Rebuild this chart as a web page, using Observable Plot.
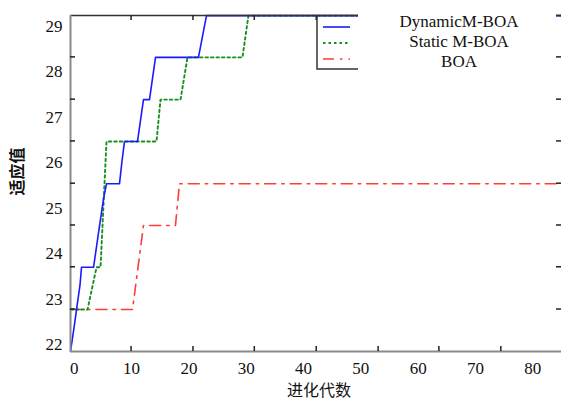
<!DOCTYPE html>
<html>
<head>
<meta charset="utf-8">
<script src="https://cdn.jsdelivr.net/npm/d3@7"></script>
<script src="https://cdn.jsdelivr.net/npm/@observablehq/plot@0.6"></script>
<style>
  html, body { margin: 0; padding: 0; background: #fff; }
  #chart svg { display: block; background: #fff; }
  #chart svg text { font-family: 'Liberation Serif', 'Times New Roman', serif; font-size: 17px; }
</style>
</head>
<body>
<div id="chart"></div>
<script>
// ---- data (x = 进化代数, y = 适应值) ----
const seriesNames = ["DynamicM-BOA", "Static M-BOA", "BOA"];

const dynamicGen = [-0.65, 0.0, 0.4, 1.0, 1.27, 3.37, 4.4, 5.1, 5.63, 7.9, 8.3, 8.77, 11.04, 12.08, 13.13, 14.18, 21.67, 23.07, 85];
const dynamicFit = [21.85, 22.4, 22.77, 23.3, 23.7, 23.7, 24.6, 25.2, 25.54, 25.54, 26.0, 26.47, 26.47, 27.39, 27.39, 28.32, 28.32, 29.24, 29.24];

const staticGen = [-0.65, 2.32, 3.89, 4.59, 5.63, 14.35, 15.05, 18.54, 19.76, 29.35, 30.39, 85];
const staticFit = [22.77, 22.77, 23.7, 23.7, 26.47, 26.47, 27.39, 27.39, 28.32, 28.32, 29.24, 29.24];

const boaGen = [-0.65, 10.17, 12.08, 17.66, 18.36, 85];
const boaFit = [22.77, 22.77, 24.62, 24.62, 25.54, 25.54];

const xTickLabels = [0, 10, 20, 30, 40, 50, 60, 70, 80];
const yTickLabels = [22, 23, 24, 25, 26, 27, 28, 29];
const xTickMarks = [10, 20.8, 31.5, 42.3, 53.1, 63.7, 74.5];
const yTickMarks = [22.77, 23.7, 24.62, 25.54, 26.47, 27.39, 28.32];

const xDomain = [-0.65, 85];
const yDomain = [21.846, 29.242];

const xTitle = "进化代数";
const yTitle = "适应值";

// ---- build table ----
function rows(name, gens, fits) {
  return gens.map((g, i) => ({series: name, gen: g, fit: fits[i]}));
}
const dyn = rows(seriesNames[0], dynamicGen, dynamicFit);
const sta = rows(seriesNames[1], staticGen, staticFit);
const boa = rows(seriesNames[2], boaGen, boaFit);

const serif = "'Liberation Serif', 'Times New Roman', serif";
const cjk = "'Noto Sans CJK SC', sans-serif";
const tickStroke = "#222";
const colors = {blue: "#1a1aff", green: "#17901f", red: "#ff3b3b"};
const dashes = {green: "2.5,3", red: "11,6,2.5,6"};

const chart = Plot.plot({
  width: 561,
  height: 405,
  marginLeft: 70,
  marginTop: 15,
  marginRight: 0,
  marginBottom: 54,
  x: {domain: xDomain},
  y: {domain: yDomain},
  marks: [
    Plot.line(boa, {x: "gen", y: "fit", stroke: colors.red, strokeWidth: 1.6, strokeDasharray: dashes.red}),
    Plot.line(sta, {x: "gen", y: "fit", stroke: colors.green, strokeWidth: 1.9, strokeDasharray: dashes.green}),
    Plot.line(dyn, {x: "gen", y: "fit", stroke: colors.blue, strokeWidth: 1.6}),
    // frame lines
    Plot.ruleY([yDomain[1]], {stroke: "#333", strokeWidth: 1.5}),
    Plot.ruleX([xDomain[0]], {stroke: "#8a8a8a", strokeWidth: 2}),
    Plot.ruleY([yDomain[0]], {stroke: "#8a8a8a", strokeWidth: 2}),
    // labels
    Plot.axisX(xTickLabels, {anchor: "bottom", tickSize: 0, tickPadding: 10, label: null, fill: "#111"}),
    Plot.axisY(yTickLabels, {anchor: "left", tickSize: 0, tickPadding: 8, label: null, fill: "#111"}),
    // axis titles
    Plot.text([xTitle], {text: d => d, frameAnchor: "bottom", dx: 3, dy: 44, fill: "#111"}),
    Plot.text([yTitle], {text: d => d, frameAnchor: "left", dx: -53, dy: 12, rotate: -90, fill: "#111"})
  ]
});

document.getElementById("chart").appendChild(chart);

const svg = d3.select(chart);
// fonts: serif for numbers and legend, CJK for the axis titles (inline styles win)
svg.selectAll("text").each(function() {
  const s = this.textContent;
  if (s === xTitle || s === yTitle) {
    this.style.setProperty("font-family", cjk, "important");
    this.style.setProperty("font-size", "16px", "important");
    this.style.setProperty("font-weight", s === yTitle ? "bold" : "normal", "important");
  } else {
    this.style.setProperty("font-family", serif, "important");
    this.style.setProperty("font-size", "17px", "important");
  }
});

// ---- inward tick marks, placed through the plot's own scales ----
const sx = chart.scale("x"), sy = chart.scale("y");
const x0 = sx.apply(xDomain[0]), x1 = sx.apply(xDomain[1]);
const y0 = sy.apply(yDomain[0]), y1 = sy.apply(yDomain[1]);
const tk = svg.append("g").attr("stroke", tickStroke).attr("stroke-width", 1.5);
xTickMarks.forEach(v => {
  const px = sx.apply(v);
  tk.append("line").attr("x1", px).attr("x2", px).attr("y1", y0).attr("y2", y0 - 5);
  tk.append("line").attr("x1", px).attr("x2", px).attr("y1", y1).attr("y2", y1 + 5);
});
yTickMarks.forEach(v => {
  const py = sy.apply(v);
  tk.append("line").attr("x1", x0).attr("x2", x0 + 5).attr("y1", py).attr("y2", py);
  tk.append("line").attr("x1", x1).attr("x2", x1 - 5).attr("y1", py).attr("y2", py);
});

// ---- legend (box partly covered by the text panel, as in the picture) ----
const lg = svg.append("g");
lg.append("path").attr("d", "M317,15V69H358").attr("fill", "none").attr("stroke", "#333").attr("stroke-width", 1.5);
const sampleStyles = [
  {stroke: colors.blue, dash: null, w: 1.6},
  {stroke: colors.green, dash: dashes.green, w: 1.9},
  {stroke: colors.red, dash: dashes.red, w: 1.6}
];
const sampleY = [27, 43, 59];
seriesNames.forEach((n, i) => {
  lg.append("line").attr("x1", 323).attr("x2", 350).attr("y1", sampleY[i]).attr("y2", sampleY[i])
    .attr("stroke", sampleStyles[i].stroke).attr("stroke-width", sampleStyles[i].w)
    .attr("stroke-dasharray", sampleStyles[i].dash);
});
lg.append("rect").attr("x", 358).attr("y", 4).attr("width", 198).attr("height", 72).attr("fill", "#fff");
const textY = [27, 47, 67];
seriesNames.forEach((n, i) => {
  lg.append("text").attr("x", 459).attr("y", textY[i]).attr("text-anchor", "middle")
    .attr("fill", "#111").style("font-family", serif).style("font-size", "17px").text(n);
});
</script>
</body>
</html>
